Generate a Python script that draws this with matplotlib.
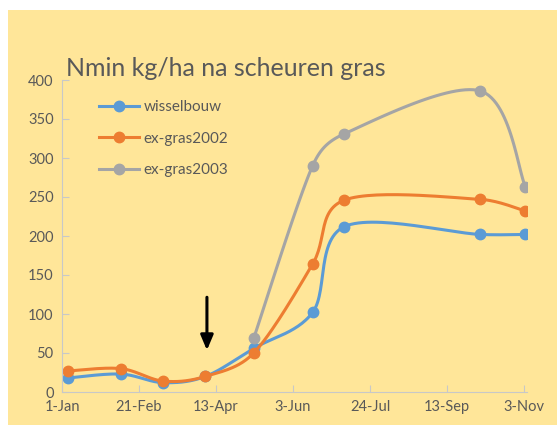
import matplotlib
matplotlib.use("Agg")
import matplotlib.pyplot as plt
import matplotlib.dates as mdates
import numpy as np
import pandas as pd

plt.rcParams.update({'font.family': ['Lato', 'DejaVu Sans']})

# sample dates
dates = pd.to_datetime(['2003-01-05', '2003-02-09', '2003-03-09', '2003-04-06',
                        '2003-05-08', '2003-06-16', '2003-07-07', '2003-10-05',
                        '2003-11-04'])
wisselbouw = [18, 23, 12, 20, 56, 102, 212, 202, 202]
exgras2002 = [27, 30, 14, 20, 50, 164, 246, 247, 232]
exgras2003 = [None, None, None, None, 69, 290, 331, 386, 263]

tick_dates = pd.date_range('2003-01-01', periods=7, freq='51D')
tick_labels = [f"{d.day}-{d.strftime('%b')}" for d in tick_dates]

series = [('wisselbouw', wisselbouw, '#5B9BD5'),
          ('ex-gras2002', exgras2002, '#ED7D31'),
          ('ex-gras2003', exgras2003, '#A5A5A5')]

fig = plt.figure(figsize=(5.57, 4.25), dpi=100)
fig.patch.set_facecolor('white')
bg = plt.Rectangle((8 / 557, 0), 1, 1 - 10 / 425, transform=fig.transFigure,
                   facecolor='#FFE699', edgecolor='none', zorder=-10)
fig.patches.append(bg)

ax = fig.add_axes([62 / 557, 33 / 425, 465 / 557, 312 / 425])
ax.set_facecolor('none')
ax.set_xlim(pd.Timestamp('2003-01-01'), pd.Timestamp('2003-11-05'))
ax.set_ylim(0, 400)


def smooth(xd, yd, n=30, cap=0.4):
    # Excel-like smoothed line: bezier segments built in screen space,
    # control arms capped so short segments do not overshoot
    pts = ax.transData.transform(np.column_stack([xd, yd]))
    out = [pts[0]]
    for i in range(len(pts) - 1):
        p0 = pts[max(i - 1, 0)]
        p1 = pts[i]
        p2 = pts[i + 1]
        p3 = pts[min(i + 2, len(pts) - 1)]
        seg = np.linalg.norm(p2 - p1)
        a1 = (p2 - p0) / 6
        a2 = (p3 - p1) / 6
        for a in (a1, a2):
            m = np.linalg.norm(a)
            if m > cap * seg:
                a *= cap * seg / m
        c1 = p1 + a1
        c2 = p2 - a2
        t = np.linspace(0, 1, n)[1:, None]
        part = ((1 - t) ** 3 * p1 + 3 * (1 - t) ** 2 * t * c1
                + 3 * (1 - t) * t ** 2 * c2 + t ** 3 * p2)
        out.extend(part)
    return ax.transData.inverted().transform(np.array(out))


for name, vals, col in series:
    xd = [mdates.date2num(d) for d, v in zip(dates, vals) if v is not None]
    yd = [v for v in vals if v is not None]
    curve = smooth(xd, yd)
    ax.plot(curve[:, 0], curve[:, 1], color=col, lw=2.2, solid_capstyle='round')
    ax.plot(xd, yd, 'o', color=col, ms=7.5, label=None)
    ax.plot([], [], '-o', color=col, lw=2.2, ms=7.5, label=name)

ax.annotate('', xy=(pd.Timestamp('2003-04-07'), 50),
            xytext=(pd.Timestamp('2003-04-07'), 125),
            arrowprops=dict(arrowstyle='-|>,head_length=0.9,head_width=0.38',
                            color='black', lw=2.2))

ax.set_xticks(tick_dates)
ax.set_xticklabels(tick_labels)
ax.set_yticks(range(0, 401, 50))
for s in ['top', 'right']:
    ax.spines[s].set_visible(False)
for s in ['left', 'bottom']:
    ax.spines[s].set_color('#C8C8C8')
ax.tick_params(direction='in', length=5, color='#C8C8C8', labelcolor='#595959',
               labelsize=10.5, pad=6)

ax.legend(loc='upper left', bbox_to_anchor=(0.05, 0.98), frameon=False,
          fontsize=11, labelcolor='#595959', handlelength=2.6,
          handletextpad=0.3, labelspacing=1.15)

fig.text(66 / 557, 1 - 68 / 425, 'Nmin kg/ha na scheuren gras', fontsize=18,
         color='#595959', va='center', ha='left')

fig.savefig('out.png', dpi=100, facecolor=fig.get_facecolor())
